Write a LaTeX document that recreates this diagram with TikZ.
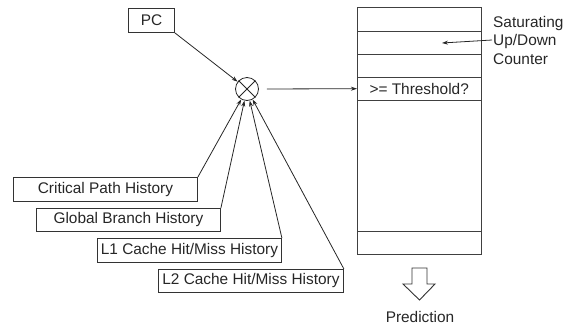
\documentclass[tikz,border=0pt]{standalone}
\usepackage{fontspec}
\setmainfont{Liberation Sans}
\usetikzlibrary{arrows.meta}
\begin{document}
\begin{tikzpicture}[x=1pt,y=-1pt,
  every node/.style={font=\fontsize{15.4}{18}\selectfont, text=black!85},
  boxnode/.style={draw=black!80, line width=0.9pt, rectangle, inner sep=0pt, anchor=north west},
  link/.style={draw=black!85, line width=0.8pt, -{Stealth[length=6pt,width=4pt]}},
  tline/.style={draw=black!75, line width=1pt}]
\useasboundingbox (0,0) rectangle (569,327);
% PC box
\node[boxnode, minimum width=46pt, minimum height=24pt] (pc) at (128,8) {PC};
% combiner circle
\node[draw=black!85, line width=0.8pt, circle, minimum size=23pt, inner sep=0pt] (c) at (247,89) {};
\draw[black!85, line width=0.8pt] (c.north west) -- (c.south east) (c.north east) -- (c.south west);
% history boxes
\node[boxnode, minimum width=184pt, minimum height=24pt] (cp) at (13,177) {Critical Path History};
\node[boxnode, minimum width=184pt, minimum height=23pt] (gb) at (36,208) {Global Branch History};
\node[boxnode, minimum width=184pt, minimum height=24pt] (l1) at (97,238) {L1 Cache Hit/Miss History};
\node[boxnode, minimum width=185pt, minimum height=23pt] (l2) at (158,269) {L2 Cache Hit/Miss History};
% table
\node[boxnode, draw=black!75, line width=1pt, minimum width=124pt, minimum height=247pt] (tbl) at (357,7) {};
\node[inner sep=0pt, minimum width=124pt, minimum height=23pt, anchor=north west] (thr) at (357,77) {>= Threshold?};
\draw[tline] (357,31) -- (481,31);
\draw[tline] (357,54) -- (481,54);
\draw[tline] (357,77) -- (481,77);
\draw[tline] (357,100) -- (481,100);
\draw[tline] (357,231) -- (481,231);
% counter label
\node[align=left, anchor=west, inner sep=0pt, font=\fontsize{15.4}{18.5}\selectfont] (sat) at (493,40) {Saturating\\Up/Down\\Counter};
\coordinate (cell) at (442,43);
\draw[link] ([xshift=-1pt]sat.west) -- (cell);
% connectors
\draw[link] (pc.south east) -- (c);
\draw[link] (cp.north east) -- (c);
\draw[link] (gb.north east) -- (c);
\draw[link] (l1.north east) -- (c);
\draw[link] (l2.north east) -- (c);
\draw[link, shorten <=8pt] (c.east) -- (thr.west);
% prediction arrow
\draw[black!80, line width=0.9pt, fill=white] (412,268) -- (427,268) -- (427,284) -- (435,284) -- (419.5,300) -- (403,284) -- (412,284) -- cycle;
\node (pred) at (420,317) {Prediction};
\end{tikzpicture}
\end{document}
